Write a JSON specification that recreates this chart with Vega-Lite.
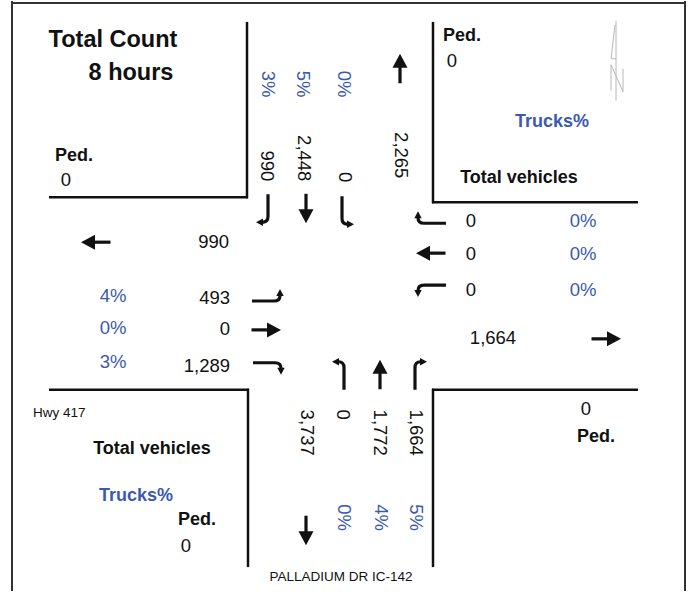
{
  "$schema": "https://vega.github.io/schema/vega-lite/v6.json",
  "width": 692,
  "height": 592,
  "padding": 0,
  "autosize": {"type": "fit", "contains": "padding"},
  "background": "white",
  "config": {"view": {"stroke": null}, "font": "Liberation Sans", "text": {"font": "Liberation Sans"}},
  "datasets": {
    "frame": [
      {"x": 12, "y": 0, "x2": 12, "y2": 592},
      {"x": 11, "y": 2, "x2": 686, "y2": 2},
      {"x": 685, "y": 0, "x2": 685, "y2": 592}
    ],
    "roads": [
      {"x": 247, "y": 21, "x2": 247, "y2": 198},
      {"x": 49, "y": 197, "x2": 248, "y2": 197},
      {"x": 433, "y": 21, "x2": 433, "y2": 203},
      {"x": 432, "y": 202, "x2": 638, "y2": 202},
      {"x": 49, "y": 390, "x2": 249, "y2": 390},
      {"x": 248, "y": 389, "x2": 248, "y2": 568},
      {"x": 432, "y": 390, "x2": 638, "y2": 390},
      {"x": 433, "y": 389, "x2": 433, "y2": 568}
    ],
    "compass": [
      {"x": 616, "y": 20, "x2": 616, "y2": 100},
      {"x": 615, "y": 24, "x2": 611, "y2": 58},
      {"x": 611, "y": 58, "x2": 616, "y2": 58},
      {"x": 611, "y": 64, "x2": 611, "y2": 90},
      {"x": 611, "y": 64, "x2": 623, "y2": 91},
      {"x": 623, "y": 68, "x2": 623, "y2": 91}
    ],
    "arrows": [
      {"x": 268, "y": 208, "a": "down-left"},
      {"x": 306, "y": 208, "a": "down"},
      {"x": 342, "y": 210, "a": "down-right"},
      {"x": 432, "y": 223, "a": "left-up"},
      {"x": 431, "y": 253, "a": "left"},
      {"x": 432, "y": 285, "a": "left-down"},
      {"x": 266, "y": 301, "a": "right-up"},
      {"x": 266, "y": 330, "a": "right"},
      {"x": 267, "y": 363, "a": "right-down"},
      {"x": 344, "y": 376, "a": "up-left"},
      {"x": 380, "y": 375, "a": "up"},
      {"x": 415, "y": 376, "a": "up-right"},
      {"x": 400, "y": 68, "a": "up"},
      {"x": 96, "y": 242, "a": "left"},
      {"x": 606, "y": 339, "a": "right"},
      {"x": 306, "y": 531, "a": "down"}
    ],
    "titles": [
      {"x": 113, "y": 39, "t": "Total Count"},
      {"x": 131, "y": 72, "t": "8 hours"}
    ],
    "labels": [
      {"x": 74, "y": 156, "t": "Ped.", "k": "volume"},
      {"x": 462, "y": 35, "t": "Ped.", "k": "volume"},
      {"x": 552, "y": 121, "t": "Trucks%", "k": "truck"},
      {"x": 519, "y": 178, "t": "Total vehicles", "k": "volume"},
      {"x": 152, "y": 450, "t": "Total vehicles", "k": "volume"},
      {"x": 136, "y": 497, "t": "Trucks%", "k": "truck"},
      {"x": 197, "y": 521, "t": "Ped.", "k": "volume"},
      {"x": 596, "y": 437, "t": "Ped.", "k": "volume"}
    ],
    "hcenter": [
      {"x": 113, "y": 296, "t": "4%", "k": "truck"},
      {"x": 113, "y": 328, "t": "0%", "k": "truck"},
      {"x": 113, "y": 362, "t": "3%", "k": "truck"},
      {"x": 471, "y": 221, "t": "0", "k": "volume"},
      {"x": 471, "y": 254, "t": "0", "k": "volume"},
      {"x": 471, "y": 290, "t": "0", "k": "volume"},
      {"x": 583, "y": 221, "t": "0%", "k": "truck"},
      {"x": 583, "y": 254, "t": "0%", "k": "truck"},
      {"x": 583, "y": 290, "t": "0%", "k": "truck"},
      {"x": 493, "y": 338, "t": "1,664", "k": "volume"},
      {"x": 66, "y": 180, "t": "0", "k": "volume"},
      {"x": 452, "y": 60, "t": "0", "k": "volume"},
      {"x": 586, "y": 409, "t": "0", "k": "volume"},
      {"x": 186, "y": 547, "t": "0", "k": "volume"}
    ],
    "hright": [
      {"x": 229, "y": 242, "t": "990", "k": "volume"},
      {"x": 230, "y": 298, "t": "493", "k": "volume"},
      {"x": 230, "y": 329, "t": "0", "k": "volume"},
      {"x": 230, "y": 366, "t": "1,289", "k": "volume"}
    ],
    "vstart": [
      {"x": 268, "y": 70, "t": "3%", "k": "truck"},
      {"x": 303, "y": 70, "t": "5%", "k": "truck"},
      {"x": 344, "y": 70, "t": "0%", "k": "truck"},
      {"x": 307, "y": 410, "t": "3,737", "k": "volume"},
      {"x": 343, "y": 410, "t": "0", "k": "volume"},
      {"x": 380, "y": 410, "t": "1,772", "k": "volume"},
      {"x": 416, "y": 410, "t": "1,664", "k": "volume"},
      {"x": 344, "y": 505, "t": "0%", "k": "truck"},
      {"x": 381, "y": 505, "t": "4%", "k": "truck"},
      {"x": 416, "y": 505, "t": "5%", "k": "truck"}
    ],
    "vend": [
      {"x": 267, "y": 181, "t": "990", "k": "volume"},
      {"x": 304, "y": 181, "t": "2,448", "k": "volume"},
      {"x": 345, "y": 182, "t": "0", "k": "volume"},
      {"x": 401, "y": 178, "t": "2,265", "k": "volume"}
    ],
    "notes": [
      {"x": 33, "y": 413, "t": "Hwy 417"}
    ],
    "street": [
      {"x": 341, "y": 578, "t": "PALLADIUM DR IC-142"}
    ]
  },
  "resolve": {"scale": {"shape": "independent"}},
  "layer": [
    {
      "data": {"name": "frame"},
      "mark": {"type": "rule", "color": "#333333", "strokeWidth": 2},
      "encoding": {
        "x": {"field": "x", "type": "quantitative", "scale": {"domain": [0, 692], "nice": false, "zero": false}, "axis": null},
        "y": {"field": "y", "type": "quantitative", "scale": {"domain": [0, 592], "nice": false, "zero": false, "reverse": true}, "axis": null},
        "x2": {"field": "x2"},
        "y2": {"field": "y2"}
      }
    },
    {
      "data": {"name": "roads"},
      "mark": {"type": "rule", "color": "#111111", "strokeWidth": 2.5},
      "encoding": {
        "x": {"field": "x", "type": "quantitative", "scale": {"domain": [0, 692], "nice": false, "zero": false}, "axis": null},
        "y": {"field": "y", "type": "quantitative", "scale": {"domain": [0, 592], "nice": false, "zero": false, "reverse": true}, "axis": null},
        "x2": {"field": "x2"},
        "y2": {"field": "y2"}
      }
    },
    {
      "data": {"name": "compass"},
      "mark": {"type": "rule", "color": "#b8b8b8", "strokeWidth": 1},
      "encoding": {
        "x": {"field": "x", "type": "quantitative", "scale": {"domain": [0, 692], "nice": false, "zero": false}, "axis": null},
        "y": {"field": "y", "type": "quantitative", "scale": {"domain": [0, 592], "nice": false, "zero": false, "reverse": true}, "axis": null},
        "x2": {"field": "x2"},
        "y2": {"field": "y2"}
      }
    },
    {
      "data": {"name": "arrows"},
      "mark": {"type": "point", "filled": false, "color": "#111111", "strokeWidth": 3.2, "opacity": 1},
      "encoding": {
        "x": {"field": "x", "type": "quantitative", "scale": {"domain": [0, 692], "nice": false, "zero": false}, "axis": null},
        "y": {"field": "y", "type": "quantitative", "scale": {"domain": [0, 592], "nice": false, "zero": false, "reverse": true}, "axis": null},
        "size": {"value": 400},
        "shape": {
          "field": "a", "type": "nominal", "legend": null,
          "scale": {
            "domain": ["down", "up", "left", "right", "down-left", "down-right", "up-left", "up-right", "left-up", "left-down", "right-up", "right-down"],
            "range": [
              "M0,-1.45L0,0.3",
              "M0,1.45L0,-0.3",
              "M1.45,0L-0.3,0",
              "M-1.45,0L0.3,0",
              "M0,-1.4L0,0.8Q0,1.4 -0.55,1.4",
              "M0,-1.4L0,0.8Q0,1.4 0.55,1.4",
              "M0,1.4L0,-0.8Q0,-1.4 -0.55,-1.4",
              "M0,1.4L0,-0.8Q0,-1.4 0.55,-1.4",
              "M1.4,0L-0.8,0Q-1.4,0 -1.4,-0.55",
              "M1.4,0L-0.8,0Q-1.4,0 -1.4,0.55",
              "M-1.4,0L0.8,0Q1.4,0 1.4,-0.55",
              "M-1.4,0L0.8,0Q1.4,0 1.4,0.55"
            ]
          }
        }
      }
    },
    {
      "data": {"name": "arrows"},
      "mark": {"type": "point", "filled": true, "color": "#111111", "strokeWidth": 0, "opacity": 1},
      "encoding": {
        "x": {"field": "x", "type": "quantitative", "scale": {"domain": [0, 692], "nice": false, "zero": false}, "axis": null},
        "y": {"field": "y", "type": "quantitative", "scale": {"domain": [0, 592], "nice": false, "zero": false, "reverse": true}, "axis": null},
        "size": {"value": 400},
        "shape": {
          "field": "a", "type": "nominal", "legend": null,
          "scale": {
            "domain": ["down", "up", "left", "right", "down-left", "down-right", "up-left", "up-right", "left-up", "left-down", "right-up", "right-down"],
            "range": [
              "M-0.75,0.1L0.75,0.1L0,1.5Z",
              "M-0.75,-0.1L0.75,-0.1L0,-1.5Z",
              "M-0.1,-0.75L-0.1,0.75L-1.5,0Z",
              "M0.1,-0.75L0.1,0.75L1.5,0Z",
              "M-0.5,1.03L-0.5,1.77L-1.2,1.4Z",
              "M0.5,1.03L0.5,1.77L1.2,1.4Z",
              "M-0.5,-1.03L-0.5,-1.77L-1.2,-1.4Z",
              "M0.5,-1.03L0.5,-1.77L1.2,-1.4Z",
              "M-1.03,-0.5L-1.77,-0.5L-1.4,-1.2Z",
              "M-1.03,0.5L-1.77,0.5L-1.4,1.2Z",
              "M1.03,-0.5L1.77,-0.5L1.4,-1.2Z",
              "M1.03,0.5L1.77,0.5L1.4,1.2Z"
            ]
          }
        }
      }
    },
    {
      "data": {"name": "titles"},
      "mark": {"type": "text", "fontSize": 23.5, "fontWeight": "bold", "align": "center", "baseline": "middle", "color": "#111111"},
      "encoding": {
        "x": {"field": "x", "type": "quantitative", "scale": {"domain": [0, 692], "nice": false, "zero": false}, "axis": null},
        "y": {"field": "y", "type": "quantitative", "scale": {"domain": [0, 592], "nice": false, "zero": false, "reverse": true}, "axis": null},
        "text": {"field": "t"}
      }
    },
    {
      "data": {"name": "labels"},
      "mark": {"type": "text", "fontSize": 18, "fontWeight": "bold", "align": "center", "baseline": "middle"},
      "encoding": {
        "x": {"field": "x", "type": "quantitative", "scale": {"domain": [0, 692], "nice": false, "zero": false}, "axis": null},
        "y": {"field": "y", "type": "quantitative", "scale": {"domain": [0, 592], "nice": false, "zero": false, "reverse": true}, "axis": null},
        "text": {"field": "t"},
        "color": {"field": "k", "type": "nominal", "legend": null, "scale": {"domain": ["volume", "truck"], "range": ["#111111", "#3a59b3"]}}
      }
    },
    {
      "data": {"name": "hcenter"},
      "mark": {"type": "text", "fontSize": 18.5, "align": "center", "baseline": "middle"},
      "encoding": {
        "x": {"field": "x", "type": "quantitative", "scale": {"domain": [0, 692], "nice": false, "zero": false}, "axis": null},
        "y": {"field": "y", "type": "quantitative", "scale": {"domain": [0, 592], "nice": false, "zero": false, "reverse": true}, "axis": null},
        "text": {"field": "t"},
        "color": {"field": "k", "type": "nominal", "legend": null, "scale": {"domain": ["volume", "truck"], "range": ["#111111", "#3a59b3"]}}
      }
    },
    {
      "data": {"name": "hright"},
      "mark": {"type": "text", "fontSize": 18.5, "align": "right", "baseline": "middle"},
      "encoding": {
        "x": {"field": "x", "type": "quantitative", "scale": {"domain": [0, 692], "nice": false, "zero": false}, "axis": null},
        "y": {"field": "y", "type": "quantitative", "scale": {"domain": [0, 592], "nice": false, "zero": false, "reverse": true}, "axis": null},
        "text": {"field": "t"},
        "color": {"field": "k", "type": "nominal", "legend": null, "scale": {"domain": ["volume", "truck"], "range": ["#111111", "#3a59b3"]}}
      }
    },
    {
      "data": {"name": "vstart"},
      "mark": {"type": "text", "fontSize": 18.5, "align": "left", "baseline": "middle", "angle": 90},
      "encoding": {
        "x": {"field": "x", "type": "quantitative", "scale": {"domain": [0, 692], "nice": false, "zero": false}, "axis": null},
        "y": {"field": "y", "type": "quantitative", "scale": {"domain": [0, 592], "nice": false, "zero": false, "reverse": true}, "axis": null},
        "text": {"field": "t"},
        "color": {"field": "k", "type": "nominal", "legend": null, "scale": {"domain": ["volume", "truck"], "range": ["#111111", "#3a59b3"]}}
      }
    },
    {
      "data": {"name": "vend"},
      "mark": {"type": "text", "fontSize": 18.5, "align": "right", "baseline": "middle", "angle": 90},
      "encoding": {
        "x": {"field": "x", "type": "quantitative", "scale": {"domain": [0, 692], "nice": false, "zero": false}, "axis": null},
        "y": {"field": "y", "type": "quantitative", "scale": {"domain": [0, 592], "nice": false, "zero": false, "reverse": true}, "axis": null},
        "text": {"field": "t"},
        "color": {"field": "k", "type": "nominal", "legend": null, "scale": {"domain": ["volume", "truck"], "range": ["#111111", "#3a59b3"]}}
      }
    },
    {
      "data": {"name": "notes"},
      "mark": {"type": "text", "fontSize": 13.5, "align": "left", "baseline": "middle", "color": "#111111"},
      "encoding": {
        "x": {"field": "x", "type": "quantitative", "scale": {"domain": [0, 692], "nice": false, "zero": false}, "axis": null},
        "y": {"field": "y", "type": "quantitative", "scale": {"domain": [0, 592], "nice": false, "zero": false, "reverse": true}, "axis": null},
        "text": {"field": "t"}
      }
    },
    {
      "data": {"name": "street"},
      "mark": {"type": "text", "fontSize": 13.5, "align": "center", "baseline": "middle", "color": "#111111"},
      "encoding": {
        "x": {"field": "x", "type": "quantitative", "scale": {"domain": [0, 692], "nice": false, "zero": false}, "axis": null},
        "y": {"field": "y", "type": "quantitative", "scale": {"domain": [0, 592], "nice": false, "zero": false, "reverse": true}, "axis": null},
        "text": {"field": "t"}
      }
    }
  ]
}
